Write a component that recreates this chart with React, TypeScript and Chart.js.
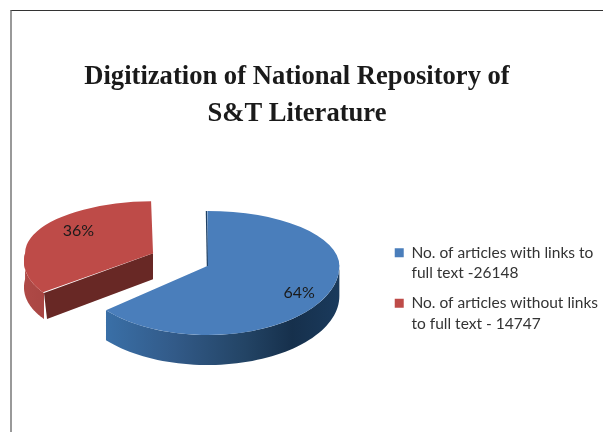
import React, { useEffect, useRef } from "react";
import { Chart, registerables } from "chart.js";

Chart.register(...registerables);

const titleLines = ["Digitization of National Repository of", "S&T Literature"];
const categories = [
  ["No. of articles with links to", "full text -26148"],
  ["No. of articles without links", "to full text - 14747"],
];
const articleCounts = [26148, 14747];
const sliceColors = ["#4a7ebb", "#be4b48"];
const explodeOffsets = [0, 240];

const RADIUS = 132;
const poses = [
  { up: 0.417, down: 0.523, xs: 1, shear: 0, depth: 30, liftY: 0, labelR: 0.8, labelDa: 0.08 },
  { up: 0.356, down: 0.425, xs: 0.877, shear: -0.27, depth: 26, liftY: 0.5, labelR: 0.72, labelDa: 0.19 },
];

function apex(arc: any, i: number) {
  const p = poses[i];
  const mid = (arc.startAngle + arc.endAngle) / 2;
  const off = explodeOffsets[i] / 4; // Chart.js draws an arc's offset at a quarter of its value
  return {
    ax: arc.x + off * Math.cos(mid),
    ay: arc.y + off * Math.sin(mid),
    sy: arc.y + off * Math.sin(mid) * p.liftY,
  };
}

// Chart.js also grows an offset arc's radius by a fraction of the offset
function drawnRadius(arc: any, i: number) {
  const off = explodeOffsets[i] / 4;
  const circ = arc.endAngle - arc.startAngle;
  return arc.outerRadius + off * (1 - Math.sin(Math.min(Math.PI, circ)));
}

function project(arc: any, i: number, angle: number, frac: number) {
  const p = poses[i];
  const { ax, sy } = apex(arc, i);
  const r = drawnRadius(arc, i) * frac;
  const ex = r * Math.cos(angle);
  const ey = r * Math.sin(angle);
  const yy = ey * (ey < 0 ? p.up : p.down);
  return { x: ax + ex * p.xs + (ey > 0 ? p.shear * yy : 0), y: sy + yy };
}

function drawFace(ctx: CanvasRenderingContext2D, chart: any, arc: any, i: number) {
  const p = poses[i];
  const { ax, ay, sy } = apex(arc, i);
  const halves = [
    { s: p.up, sh: 0, y0: 0, h: sy + 0.4 },
    { s: p.down, sh: p.shear * p.down, y0: sy - 0.4, h: chart.height },
  ];
  for (const half of halves) {
    ctx.save();
    ctx.beginPath();
    ctx.rect(0, half.y0, chart.width, half.h);
    ctx.clip();
    // x' = ax + xs(x-ax) + sh(y-ay), y' = sy + s(y-ay)
    ctx.transform(p.xs, 0, half.sh, half.s, ax - p.xs * ax - half.sh * ay, sy - half.s * ay);
    arc.draw(ctx);
    ctx.restore();
  }
}

function wallPath(ctx: CanvasRenderingContext2D, arc: any, i: number, a0: number, a1: number) {
  const depth = poses[i].depth;
  const steps = 60;
  ctx.beginPath();
  for (let k = 0; k <= steps; k++) {
    const q = project(arc, i, a0 + ((a1 - a0) * k) / steps, 1);
    if (k === 0) ctx.moveTo(q.x, q.y);
    else ctx.lineTo(q.x, q.y);
  }
  for (let k = steps; k >= 0; k--) {
    const q = project(arc, i, a0 + ((a1 - a0) * k) / steps, 1);
    ctx.lineTo(q.x, q.y + depth);
  }
  ctx.closePath();
}

const pie3d = {
  id: "pie3d",
  beforeDatasetsDraw(chart: any) {
    const ctx: CanvasRenderingContext2D = chart.ctx;
    const arcs = chart.getDatasetMeta(0).data;
    const blue = arcs[0];
    const red = arcs[1];

    // red: outer wall, cut face, top
    const redA = red.startAngle;
    wallPath(ctx, red, 1, redA, Math.PI);
    const rg = ctx.createLinearGradient(20, 0, 50, 0);
    rg.addColorStop(0, "#b04a47");
    rg.addColorStop(1, "#a84542");
    ctx.fillStyle = rg;
    ctx.fill();

    const rApex = project(red, 1, redA, 0);
    const rEdge = project(red, 1, redA, 1);
    const rd = poses[1].depth;
    ctx.beginPath();
    ctx.moveTo(rApex.x, rApex.y);
    ctx.lineTo(rEdge.x, rEdge.y);
    ctx.lineTo(rEdge.x + 3, rEdge.y + rd);
    ctx.lineTo(rApex.x, rApex.y + rd);
    ctx.closePath();
    ctx.fillStyle = "#682825";
    ctx.fill();
    drawFace(ctx, chart, red, 1);

    // blue: outer wall, thin start edge, top
    wallPath(ctx, blue, 0, 0, blue.endAngle);
    const bg = ctx.createLinearGradient(104, 0, 339, 0);
    bg.addColorStop(0, "#3a70a8");
    bg.addColorStop(0.3, "#325a88");
    bg.addColorStop(0.6, "#234465");
    bg.addColorStop(0.8, "#16304c");
    bg.addColorStop(1, "#1a3a5c");
    ctx.fillStyle = bg;
    ctx.fill();
    drawFace(ctx, chart, blue, 0);

    const bTop = project(blue, 0, blue.startAngle, 1);
    const bApex = project(blue, 0, blue.startAngle, 0);
    ctx.beginPath();
    ctx.moveTo(bTop.x - 1, bTop.y);
    ctx.lineTo(bApex.x, bApex.y);
    ctx.strokeStyle = "#1d3f63";
    ctx.lineWidth = 1.2;
    ctx.stroke();

    // percentage labels
    const total = articleCounts.reduce((a, b) => a + b, 0);
    ctx.font = "16px Lato";
    ctx.fillStyle = "#1a1a1a";
    ctx.textAlign = "center";
    ctx.textBaseline = "middle";
    arcs.forEach((arc: any, i: number) => {
      const mid = (arc.startAngle + arc.endAngle) / 2 + poses[i].labelDa;
      const q = project(arc, i, mid, poses[i].labelR);
      ctx.fillText(`${Math.round((articleCounts[i] / total) * 100)}%`, q.x, q.y);
    });
    return false;
  },
  afterLayout(chart: any) {
    const lg = chart.legend;
    lg.top += 96;
    lg.bottom += 96;
    lg.left += 13;
    lg.right += 13;
    const tb = chart.titleBlock;
    tb.left -= 22;
    tb.right -= 22;
  },
};

export default function App() {
  const ref = useRef<HTMLCanvasElement>(null);
  useEffect(() => {
    document.body.style.margin = "0";
    const chart = new Chart(ref.current!, {
      type: "pie",
      data: {
        labels: categories as any,
        datasets: [
          {
            data: articleCounts,
            backgroundColor: sliceColors,
            borderWidth: 0,
            offset: explodeOffsets,
          },
        ],
      },
      options: {
        animation: false,
        responsive: false,
        radius: RADIUS,
        layout: { padding: { left: 43, right: 8, bottom: 43, top: 0 } },
        plugins: {
          title: {
            display: true,
            text: titleLines,
            color: "#1a1a1a",
            font: { family: "'Liberation Serif'", size: 26.6, weight: "bold", lineHeight: 1.39 },
            padding: { top: 59, bottom: 10 },
          },
          legend: {
            position: "right",
            labels: {
              boxWidth: 9,
              boxHeight: 9,
              padding: 10,
              color: "#333333",
              font: { family: "Lato", size: 15.5, lineHeight: 1.31 },
            },
          },
          tooltip: { enabled: false },
        },
      },
      plugins: [pie3d],
    } as any);
    return () => chart.destroy();
  }, []);
  return (
    <div style={{ position: "relative", width: 603, height: 432, overflow: "hidden", background: "#fff" }}>
      <div
        style={{
          position: "absolute",
          left: 10,
          top: 10,
          right: 0,
          bottom: 0,
          borderTop: "1px solid #333",
          borderLeft: "2px solid #999",
        }}
      />
      <canvas ref={ref} width={603} height={432} style={{ position: "absolute", left: 0, top: 0, display: "block" }} />
    </div>
  );
}
